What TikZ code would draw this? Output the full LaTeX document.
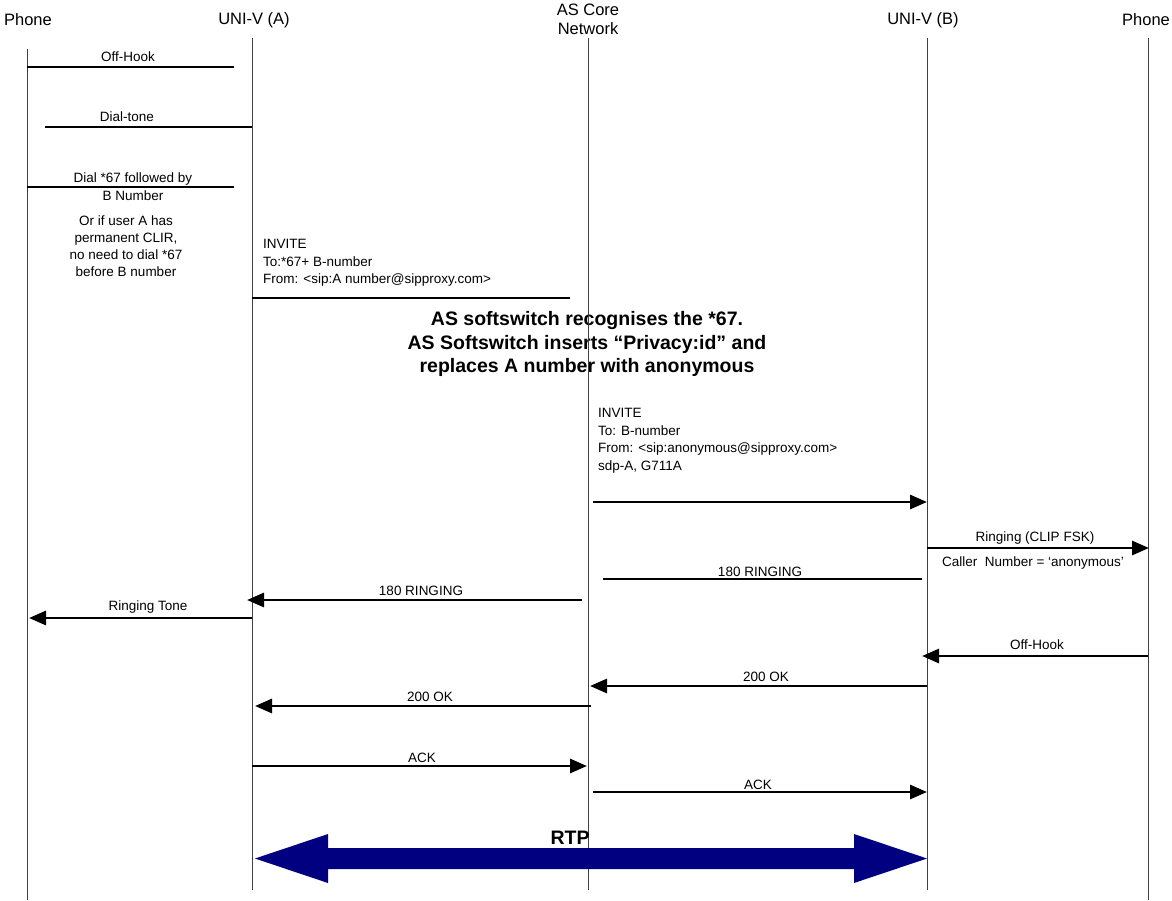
\documentclass[tikz,border=0pt]{standalone}
\usepackage{fontspec}
\setmainfont{Liberation Sans}
\usetikzlibrary{arrows.meta,calc}
\definecolor{rtpnavy}{RGB}{0,0,128}
\begin{document}
\begin{tikzpicture}[x=1pt,y=-1pt,
  hdr/.style={font=\fontsize{16.5}{19}\selectfont, inner sep=0pt, align=center},
  lbl/.style={font=\fontsize{13.5}{17}\selectfont, inner sep=0pt, align=center},
  blk/.style={font=\fontsize{13.5}{17.7}\selectfont, inner sep=0pt, align=left, anchor=north west},
  bold/.style={font=\fontsize{19.5}{23.5}\selectfont\bfseries, inner sep=0pt, align=center},
  life/.style={line width=1pt, draw=black!75},
  msg/.style={line width=2.9pt},
  arr/.style={msg, -{Triangle[length=17pt,width=14pt]}}]
\useasboundingbox (0,0) rectangle (1172,900);

% headers
\node[hdr] (hPA) at (28,20) {Phone};
\node[hdr] (hUA) at (254,20) {UNI-V (A)};
\node[hdr] (hAS) at (588,19) {AS Core\\Network};
\node[hdr] (hUB) at (923,20) {UNI-V (B)};
\node[hdr] (hPB) at (1146,20) {Phone};

% texts
\node[lbl] (t1) at (128,57) {Off-Hook};
\node[lbl] (t2) at (127,117) {Dial-tone};
\node[lbl] (t3) at (133,179) {Dial *67 followed by};
\node[lbl] (t3b) at (133,196) {B Number};
\node[lbl] (t4) at (126,246) {Or if user A has\\permanent CLIR,\\no need to dial *67\\before B number};
\node[blk] (t5) at (263,239) {INVITE\\To:*67+ B-number\\From: <sip:A number@sipproxy.com>};
\node[bold] (t6) at (587,344) {AS softswitch recognises the *67.\\AS Softswitch inserts “Privacy:id” and\\replaces A number with anonymous};
\node[blk] (t7) at (598,408) {INVITE\\To: B-number\\From: <sip:anonymous@sipproxy.com>\\sdp-A, G711A};
\node[lbl] (t8) at (1035,538) {Ringing (CLIP FSK)};
\node[lbl] (t8b) at (1033,563) {Caller\ \ Number = ‘anonymous’};
\node[lbl] (t9) at (760,572) {180 RINGING};
\node[lbl] (t10) at (421,591) {180 RINGING};
\node[lbl] (t11) at (148,607) {Ringing Tone};
\node[lbl] (t12) at (1037,645) {Off-Hook};
\node[lbl] (t13) at (766,677) {200 OK};
\node[lbl] (t14) at (430,697) {200 OK};
\node[lbl] (t15) at (422,758) {ACK};
\node[lbl] (t16) at (758,785) {ACK};

% lifelines
\coordinate (tPA) at (27,49);   \coordinate (bPA) at (27,900);
\coordinate (tUA) at (252,38);  \coordinate (bUA) at (252,890);
\coordinate (tAS) at (588,38);  \coordinate (bAS) at (588,890);
\coordinate (tUB) at (927,38);  \coordinate (bUB) at (927,890);
\coordinate (tPB) at (1148,38); \coordinate (bPB) at (1148,900);
\foreach \l in {PA,UA,AS,UB,PB} \draw[life] (t\l) -- (b\l);

% messages
\coordinate (m1a) at (27,67);   \coordinate (m1b) at (234,67);
\coordinate (m2a) at (45,127);  \coordinate (m2b) at (252,127);
\coordinate (m3a) at (27,187);  \coordinate (m3b) at (234,187);
\coordinate (m5a) at (252,298); \coordinate (m5b) at (570,298);
\coordinate (m7a) at (593,502); \coordinate (m7b) at (927,502);
\coordinate (m8a) at (927,548); \coordinate (m8b) at (1149,548);
\coordinate (m9a) at (922,579); \coordinate (m9b) at (603,579);
\coordinate (m10a) at (582,600); \coordinate (m10b) at (247,600);
\coordinate (m11a) at (252,618); \coordinate (m11b) at (29,618);
\coordinate (m12a) at (1148,656); \coordinate (m12b) at (922,656);
\coordinate (m13a) at (927,686); \coordinate (m13b) at (590,686);
\coordinate (m14a) at (591,706); \coordinate (m14b) at (255,706);
\coordinate (m15a) at (252,766); \coordinate (m15b) at (587,766);
\coordinate (m16a) at (593,792); \coordinate (m16b) at (927,792);

\draw[msg] (m1a) -- (m1b);
\draw[msg] (m2a) -- (m2b);
\draw[msg] (m3a) -- (m3b);
\draw[msg] (m5a) -- (m5b);
\draw[arr] (m7a) -- (m7b);
\draw[arr] (m8a) -- (m8b);
\draw[msg] (m9a) -- (m9b);
\draw[arr] (m10a) -- (m10b);
\draw[arr] (m11a) -- (m11b);
\draw[arr] (m12a) -- (m12b);
\draw[arr] (m13a) -- (m13b);
\draw[arr] (m14a) -- (m14b);
\draw[arr] (m15a) -- (m15b);
\draw[arr] (m16a) -- (m16b);

% RTP
\node[bold] (rtp) at (570,838) {RTP};
\coordinate (rA) at (255,858.5); \coordinate (rB) at (927,858.5);
\fill[rtpnavy] (rA) -- ++(73,-24.5) -- ++(0,14) -- ($(rB)+(-73,-10.5)$) -- ++(0,-14) -- (rB)
  -- ++(-73,24.5) -- ++(0,-14) -- ($(rA)+(73,10.5)$) -- ++(0,14) -- cycle;
\end{tikzpicture}
\end{document}
